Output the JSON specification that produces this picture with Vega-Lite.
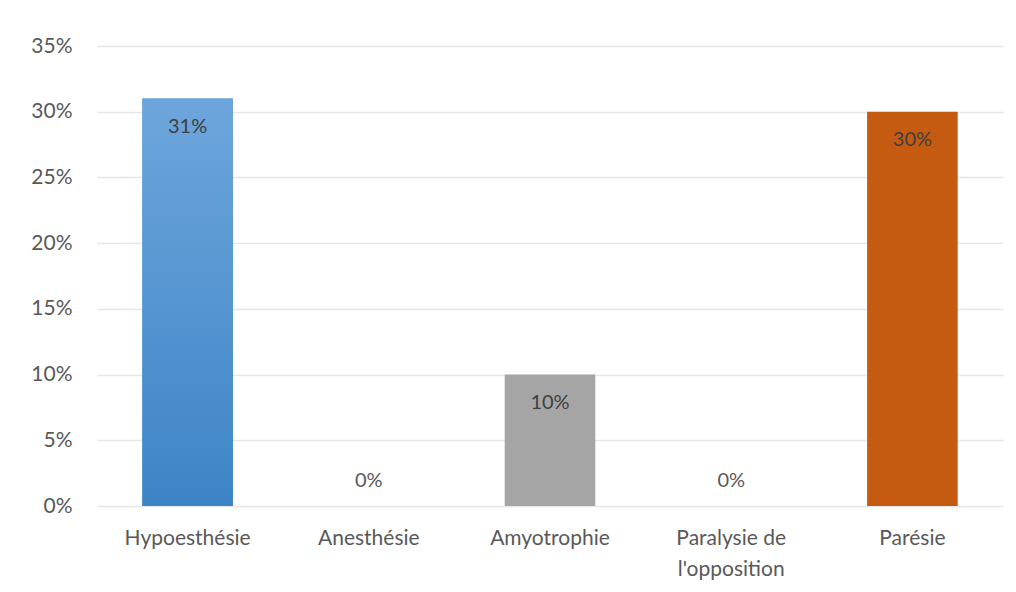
{
  "$schema": "https://vega.github.io/schema/vega-lite/v6.json",
  "autosize": "none",
  "padding": {"left": 97, "top": 46, "right": 13, "bottom": 86},
  "width": 906,
  "height": 460,
  "background": "white",
  "config": {
    "view": {"stroke": null},
    "font": "Lato",
    "axis": {"labelFont": "Lato", "labelColor": "#595959", "labelFontSize": 21, "domain": false, "ticks": false, "title": null}
  },
  "data": {
    "values": [
      {"categorie": "Hypoesthésie", "valeur": 0.31},
      {"categorie": "Anesthésie", "valeur": 0},
      {"categorie": "Amyotrophie", "valeur": 0.10},
      {"categorie": "Paralysie de l'opposition", "valeur": 0},
      {"categorie": "Parésie", "valeur": 0.30}
    ]
  },
  "encoding": {
    "x": {
      "field": "categorie", "type": "nominal", "sort": null,
      "scale": {"paddingInner": 0.5, "paddingOuter": 0.25},
      "axis": {"labelAngle": 0, "labelPadding": 21, "labelLineHeight": 31, "grid": false, "labelBaseline": "top",
        "labelExpr": "datum.label == \"Paralysie de l'opposition\" ? ['Paralysie de', \"l'opposition\"] : datum.label"}
    },
    "y": {
      "field": "valeur", "type": "quantitative",
      "scale": {"domain": [0, 0.35], "nice": false},
      "axis": {"format": ".0%", "values": [0, 0.05, 0.1, 0.15, 0.2, 0.25, 0.3, 0.35], "labelOverlap": false, "labelPadding": 25, "gridColor": "#E4E6EA", "gridWidth": 1.5}
    }
  },
  "layer": [
    {
      "mark": {"type": "bar"},
      "encoding": {
        "color": {
          "field": "categorie", "type": "nominal", "legend": null,
          "scale": {
            "domain": ["Hypoesthésie", "Anesthésie", "Amyotrophie", "Paralysie de l'opposition", "Parésie"],
            "range": ["#5B9BD5", "#5B9BD5", "#A5A5A5", "#A5A5A5", "#C55A11"]
          }
        }
      }
    },
    {
      "transform": [{"filter": "datum.categorie == 'Hypoesthésie'"}],
      "mark": {"type": "bar", "color": {"x1": 0, "y1": 0, "x2": 0, "y2": 1, "gradient": "linear", "stops": [{"offset": 0, "color": "#6DA6DC"}, {"offset": 1, "color": "#3D84C6"}]}}
    },
    {
      "transform": [{"filter": "datum.valeur > 0"}],
      "mark": {"type": "text", "dy": 28, "fontSize": 20, "color": "#404040", "font": "Lato"},
      "encoding": {"text": {"field": "valeur", "type": "quantitative", "format": ".0%"}}
    },
    {
      "transform": [{"filter": "datum.valeur == 0"}],
      "mark": {"type": "text", "dy": -25, "fontSize": 20, "color": "#595959", "font": "Lato"},
      "encoding": {"text": {"field": "valeur", "type": "quantitative", "format": ".0%"}}
    }
  ]
}
